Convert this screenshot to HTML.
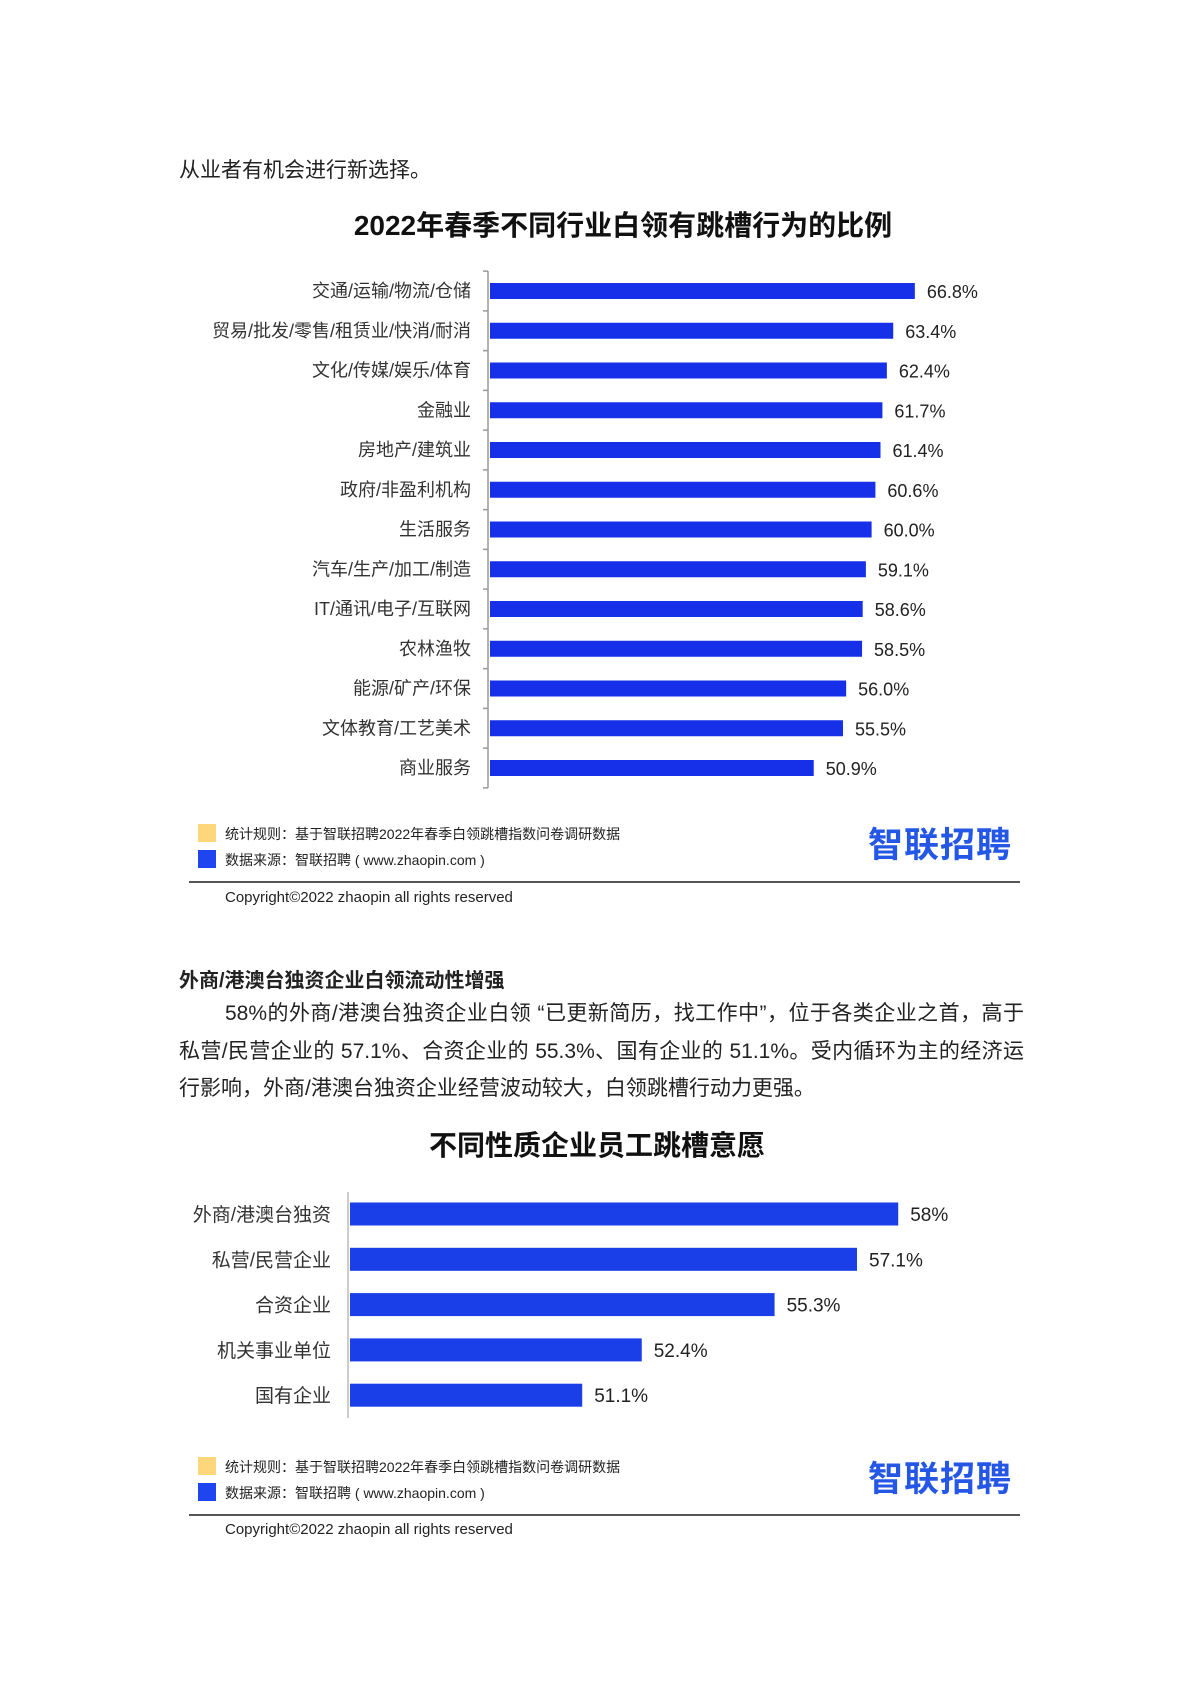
<!DOCTYPE html>
<html><head><meta charset="utf-8">
<style>
html,body{margin:0;padding:0;background:#fff;}
body{width:1200px;height:1698px;position:relative;overflow:hidden;font-family:"Liberation Sans","Noto Sans CJK SC",sans-serif;color:#222;}
.abs{position:absolute;white-space:nowrap;}
.para{position:absolute;left:179px;width:845px;font-size:21px;line-height:37px;text-align:justify;text-align-last:justify;white-space:nowrap;}
</style></head>
<body>
<div class="abs" style="left:179px;top:154px;font-size:21px;">从业者有机会进行新选择。</div>

<svg id="chart1" width="1200" height="800" style="position:absolute;left:0;top:0;" xmlns="http://www.w3.org/2000/svg" font-family="Liberation Sans, Noto Sans CJK SC, sans-serif">
<text x="623" y="235" text-anchor="middle" font-size="28" font-weight="bold" fill="#111">2022年春季不同行业白领有跳槽行为的比例</text>
</svg>

<svg id="chart2" width="1200" height="1698" style="position:absolute;left:0;top:0;" xmlns="http://www.w3.org/2000/svg" font-family="Liberation Sans, Noto Sans CJK SC, sans-serif">
<text x="597" y="1155" text-anchor="middle" font-size="28" font-weight="bold" fill="#111">不同性质企业员工跳槽意愿</text>
</svg>

<div>
<div class="abs" style="left:198px;top:824px;width:18px;height:18px;background:#fdd77a;"></div>
<div class="abs" style="left:225px;top:824px;font-size:14px;">统计规则：基于智联招聘2022年春季白领跳槽指数问卷调研数据</div>
<div class="abs" style="left:198px;top:850px;width:18px;height:18px;background:#1f45f0;"></div>
<div class="abs" style="left:225px;top:850px;font-size:14px;">数据来源：智联招聘 ( www.zhaopin.com )</div>
<div class="abs" style="left:868px;top:817px;font-size:35px;font-weight:bold;color:#2557e6;letter-spacing:1px;">智联招聘</div>
<div class="abs" style="left:189px;top:881px;width:831px;height:2px;background:#555;"></div>
<div class="abs" style="left:225px;top:889px;font-size:15px;">Copyright©2022 zhaopin all rights reserved</div>
</div>

<div class="abs" style="left:179px;top:964px;font-size:20px;font-weight:bold;">外商/港澳台独资企业白领流动性增强</div>
<div>
<div class="para" style="top:995px;left:225px;width:799px;">58%的外商/港澳台独资企业白领 “已更新简历，找工作中”，位于各类企业之首，高于</div>
<div class="para" style="top:1033px;">私营/民营企业的 57.1%、合资企业的 55.3%、国有企业的 51.1%。受内循环为主的经济运</div>
<div class="para" style="top:1070px;text-align-last:left;">行影响，外商/港澳台独资企业经营波动较大，白领跳槽行动力更强。</div>
</div>

<div>
<div class="abs" style="left:198px;top:1457px;width:18px;height:18px;background:#fdd77a;"></div>
<div class="abs" style="left:225px;top:1457px;font-size:14px;">统计规则：基于智联招聘2022年春季白领跳槽指数问卷调研数据</div>
<div class="abs" style="left:198px;top:1483px;width:18px;height:18px;background:#1f45f0;"></div>
<div class="abs" style="left:225px;top:1483px;font-size:14px;">数据来源：智联招聘 ( www.zhaopin.com )</div>
<div class="abs" style="left:868px;top:1451px;font-size:35px;font-weight:bold;color:#2557e6;letter-spacing:1px;">智联招聘</div>
<div class="abs" style="left:189px;top:1514px;width:831px;height:2px;background:#555;"></div>
<div class="abs" style="left:225px;top:1521px;font-size:15px;">Copyright©2022 zhaopin all rights reserved</div>
</div>

<script>
const industries = ["交通/运输/物流/仓储","贸易/批发/零售/租赁业/快消/耐消","文化/传媒/娱乐/体育","金融业","房地产/建筑业","政府/非盈利机构","生活服务","汽车/生产/加工/制造","IT/通讯/电子/互联网","农林渔牧","能源/矿产/环保","文体教育/工艺美术","商业服务"];
const industryValues = [66.8,63.4,62.4,61.7,61.4,60.6,60.0,59.1,58.6,58.5,56.0,55.5,50.9];
const industryLabels = ["66.8%","63.4%","62.4%","61.7%","61.4%","60.6%","60.0%","59.1%","58.6%","58.5%","56.0%","55.5%","50.9%"];
const enterprises = ["外商/港澳台独资","私营/民营企业","合资企业","机关事业单位","国有企业"];
const enterpriseValues = [58,57.1,55.3,52.4,51.1];
const enterpriseLabels = ["58%","57.1%","55.3%","52.4%","51.1%"];

const NS="http://www.w3.org/2000/svg";
function mk(svg,tag,attrs){const e=document.createElementNS(NS,tag);for(const k in attrs)e.setAttribute(k,attrs[k]);svg.appendChild(e);return e;}

// chart 1
(function(){
  const svg=document.getElementById('chart1');
  const x0=490, k=6.36, y0=291, step=39.75, bh=16;
  const xs=v=>x0+v*k, ys=i=>y0+i*step;
  const ax=mk(svg,'line',{x1:488,x2:488,y1:ys(0)-step/2,y2:ys(industries.length-1)+step/2,stroke:'#999','stroke-width':1.5});
  
  
  for(let i=0;i<=industries.length;i++){
    const t=mk(svg,'line',{x1:483,x2:488,y1:ys(i)-step/2,y2:ys(i)-step/2,stroke:'#999','stroke-width':1.5});
    
    
  }
  industries.forEach((c,i)=>{
    const y=ys(i);
    const l=mk(svg,'text',{x:471,y:y+6,'text-anchor':'end','font-size':18,fill:'#333'});l.textContent=c;
    
    
    const r=mk(svg,'rect',{x:x0,y:y-bh/2,width:xs(industryValues[i])-x0,height:bh,fill:'#1530e8'});
    
    
    const v=mk(svg,'text',{x:xs(industryValues[i])+12,y:y+7,'font-size':18,fill:'#222'});v.textContent=industryLabels[i];
    
    
  });
})();

// chart 2
(function(){
  const svg=document.getElementById('chart2');
  const x0=350, base=46.03, k=45.8, y0=1214, step=45.3, bh=23;
  const xs=v=>x0+(v-base)*k, ys=i=>y0+i*step;
  const ax=mk(svg,'line',{x1:348,x2:348,y1:1192,y2:1418,stroke:'#bbb','stroke-width':1.5});
  
  
  enterprises.forEach((c,i)=>{
    const y=ys(i);
    const l=mk(svg,'text',{x:331,y:y+7,'text-anchor':'end','font-size':19,fill:'#333'});l.textContent=c;
    
    
    const r=mk(svg,'rect',{x:x0,y:y-bh/2,width:xs(enterpriseValues[i])-x0,height:bh,fill:'#1a3ee8'});
    
    
    const v=mk(svg,'text',{x:xs(enterpriseValues[i])+12,y:y+7,'font-size':19,fill:'#222'});v.textContent=enterpriseLabels[i];
    
    
  });
})();
</script>
</body></html>
